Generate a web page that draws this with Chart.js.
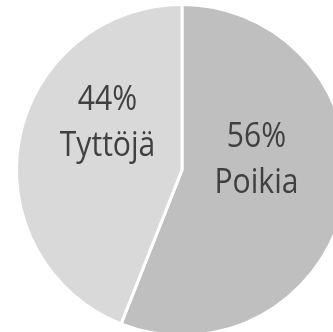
<!DOCTYPE html>
<html>
<head>
<meta charset="utf-8">
<script src="https://cdn.jsdelivr.net/npm/chart.js@4.4.0/dist/chart.umd.min.js"></script>
<style>
    html, body { margin: 0; padding: 0; background: #ffffff; overflow: hidden; }
    #wrap { position: absolute; left: 0; top: 0; width: 364px; height: 340px; }
</style>
</head>
<body>
<div id="wrap"><canvas id="pieChart" width="364" height="340"></canvas></div>
<script>
const labels = ["Poikia", "Tyttöjä"];
const percents = [56, 44];
const colors = ["#bfbfbf", "#d9d9d9"];

// label anchor (x centre, first baseline) relative to pie centre, as fraction of radius
const labelOffsets = [[0.45, -0.14], [-0.45, -0.365]];

const sliceLabels = {
    id: "sliceLabels",
    afterDatasetsDraw(chart) {
        const { ctx } = chart;
        const meta = chart.getDatasetMeta(0);
        meta.data.forEach((arc, i) => {
            const r = arc.outerRadius;
            const x = arc.x + labelOffsets[i][0] * r;
            const y = arc.y + labelOffsets[i][1] * r;
            ctx.save();
            ctx.translate(x, y);
            ctx.scale(0.86, 1); // narrower, closer to Calibri
            ctx.fillStyle = "#404040";
            ctx.font = "35px 'Open Sans'";
            ctx.textAlign = "center";
            ctx.textBaseline = "alphabetic";
            ctx.fillText(percents[i] + "%", 0, 0);
            ctx.fillText(labels[i], 0, 46);
            ctx.restore();
        });
    }
};

new Chart(document.getElementById("pieChart"), {
    type: "pie",
    data: {
        labels: labels,
        datasets: [{
            data: percents,
            backgroundColor: colors,
            borderColor: "#ffffff",
            borderWidth: 3
        }]
    },
    options: {
        responsive: false,
        animation: false,
        layout: { padding: { top: 3, bottom: 3, left: 0, right: 0 } },
        plugins: {
            legend: { display: false },
            tooltip: { enabled: false }
        }
    },
    plugins: [sliceLabels]
});
</script>
</body>
</html>
